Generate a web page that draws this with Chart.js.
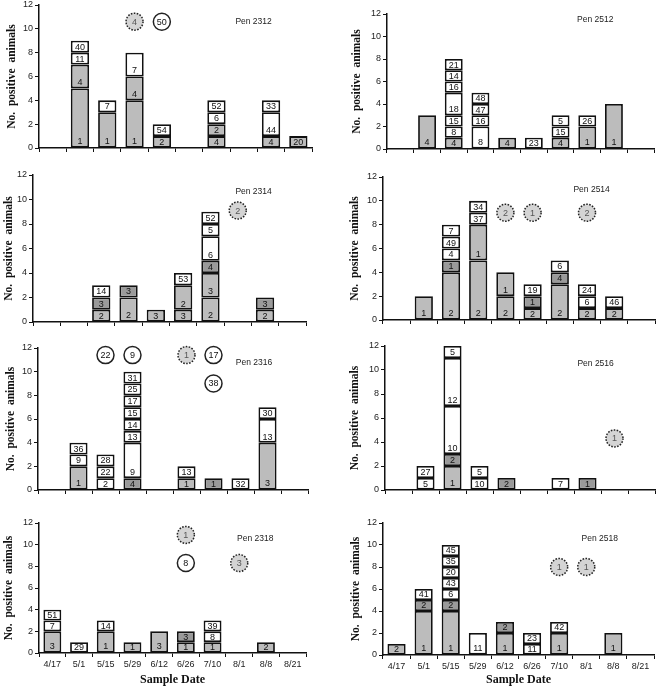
<!DOCTYPE html>
<html>
<head>
<meta charset="utf-8">
<title>Positive animals by pen and sample date</title>
<script src="https://cdn.jsdelivr.net/npm/chart.js@4.4.0/dist/chart.umd.min.js"></script>
<style>
  html, body { margin: 0; padding: 0; background: #fff; }
  #page { position: relative; width: 658px; height: 687px; overflow: hidden; }
  .panel { position: absolute; }
</style>
</head>
<body>
<div id="page"></div>
<script>
// Sample dates (x categories) and y ticks
const dates = ['4/17', '5/1', '5/15', '5/29', '6/12', '6/26', '7/10', '8/1', '8/8', '8/21'];
const yMax = 12;
const yStep = 2;

// Each bar = list of stacked segments: [animals, label, type]  (g / d = gray shades, w = white)
const pen2312 = [
    [],
    [[5, '1', 'g'], [2, '4', 'g'], [1, '11', 'w'], [1, '40', 'w']],
    [[3, '1', 'g'], [1, '7', 'w']],
    [[4, '1', 'g'], [2, '4', 'g'], [2, '7', 'w']],
    [[1, '2', 'g'], [1, '54', 'w']],
    [],
    [[1, '4', 'g'], [1, '2', 'g'], [1, '6', 'w'], [1, '52', 'w']],
    [],
    [[1, '4', 'g'], [2, '44', 'w'], [1, '33', 'w']],
    [[1, '20', 'g']]
];
const pen2512 = [
    [],
    [[3, '4', 'g']],
    [[1, '4', 'g'], [1, '8', 'w'], [1, '15', 'w'], [2, '18', 'w'], [1, '16', 'w'], [1, '14', 'w'], [1, '21', 'w']],
    [[2, '8', 'w'], [1, '16', 'w'], [1, '47', 'w'], [1, '48', 'w']],
    [[1, '4', 'g']],
    [[1, '23', 'w']],
    [[1, '4', 'g'], [1, '15', 'w'], [1, '5', 'w']],
    [[2, '1', 'g'], [1, '26', 'w']],
    [[4, '1', 'g']],
    []
];
const pen2314 = [
    [],
    [],
    [[1, '2', 'g'], [1, '3', 'd'], [1, '14', 'w']],
    [[2, '2', 'g'], [1, '3', 'd']],
    [[1, '3', 'g']],
    [[1, '3', 'g'], [2, '2', 'g'], [1, '53', 'w']],
    [[2, '2', 'g'], [2, '3', 'g'], [1, '4', 'd'], [2, '6', 'w'], [1, '5', 'w'], [1, '52', 'w']],
    [],
    [[1, '2', 'g'], [1, '3', 'd']],
    []
];
const pen2514 = [
    [],
    [[2, '1', 'g']],
    [[4, '2', 'g'], [1, '1', 'd'], [1, '4', 'w'], [1, '49', 'w'], [1, '7', 'w']],
    [[5, '2', 'g'], [3, '1', 'g'], [1, '37', 'w'], [1, '34', 'w']],
    [[2, '2', 'g'], [2, '1', 'g']],
    [[1, '2', 'g'], [1, '1', 'd'], [1, '19', 'w']],
    [[3, '2', 'g'], [1, '4', 'd'], [1, '6', 'w']],
    [[1, '2', 'g'], [1, '6', 'w'], [1, '24', 'w']],
    [[1, '2', 'g'], [1, '46', 'w']],
    []
];
const pen2316 = [
    [],
    [[2, '1', 'g'], [1, '9', 'w'], [1, '36', 'w']],
    [[1, '2', 'w'], [1, '22', 'w'], [1, '28', 'w']],
    [[1, '4', 'd'], [3, '9', 'w'], [1, '13', 'w'], [1, '14', 'w'], [1, '15', 'w'], [1, '17', 'w'], [1, '25', 'w'], [1, '31', 'w']],
    [],
    [[1, '1', 'g'], [1, '13', 'w']],
    [[1, '1', 'd']],
    [[1, '32', 'w']],
    [[4, '3', 'g'], [2, '13', 'w'], [1, '30', 'w']],
    []
];
const pen2516 = [
    [],
    [[1, '5', 'w'], [1, '27', 'w']],
    [[2, '1', 'g'], [1, '2', 'd'], [4, '10', 'w'], [4, '12', 'w'], [1, '5', 'w']],
    [[1, '10', 'w'], [1, '5', 'w']],
    [[1, '2', 'd']],
    [],
    [[1, '7', 'w']],
    [[1, '1', 'd']],
    [],
    []
];
const pen2318 = [
    [[2, '3', 'g'], [1, '7', 'w'], [1, '51', 'w']],
    [[1, '29', 'w']],
    [[2, '1', 'g'], [1, '14', 'w']],
    [[1, '1', 'g']],
    [[2, '3', 'g']],
    [[1, '1', 'g'], [1, '3', 'd']],
    [[1, '1', 'g'], [1, '8', 'w'], [1, '39', 'w']],
    [],
    [[1, '2', 'g']],
    []
];
const pen2518 = [
    [[1, '2', 'g']],
    [[4, '1', 'g'], [1, '2', 'd'], [1, '41', 'w']],
    [[4, '1', 'g'], [1, '2', 'd'], [1, '6', 'w'], [1, '43', 'w'], [1, '20', 'w'], [1, '35', 'w'], [1, '45', 'w']],
    [[2, '11', 'w']],
    [[2, '1', 'g'], [1, '2', 'd']],
    [[1, '11', 'w'], [1, '23', 'w']],
    [[2, '1', 'g'], [1, '42', 'w']],
    [],
    [[2, '1', 'g']],
    []
];

// Circled counts: [date, height, label, type]
const circles2312 = [['5/29', 10.6, '4', 'g'], ['6/12', 10.6, '50', 'w']];
const circles2512 = [];
const circles2314 = [['8/1', 9.1, '2', 'g']];
const circles2514 = [['6/12', 9, '2', 'g'], ['6/26', 9, '1', 'g'], ['8/1', 9, '2', 'g']];
const circles2316 = [['5/15', 11.4, '22', 'w'], ['5/29', 11.4, '9', 'w'], ['6/26', 11.4, '1', 'g'], ['7/10', 11.4, '17', 'w'], ['7/10', 9, '38', 'w']];
const circles2516 = [['8/8', 4.3, '1', 'g']];
const circles2318 = [['6/26', 10.9, '1', 'g'], ['6/26', 8.3, '8', 'w'], ['8/1', 8.3, '3', 'g']];
const circles2518 = [['7/10', 8, '1', 'g'], ['8/1', 8, '1', 'g']];

const FILL = { g: '#bcbcbc', d: '#9a9a9a', w: '#ffffff' };
const SANS = "'Liberation Sans', Arial, sans-serif";
const SERIF = "'Liberation Serif', 'Times New Roman', serif";

// Panel placement (plot area edges in page pixels)
const panels = [
    { pen: '2312', bars: pen2312, circles: circles2312, left: 0,   L: 39,  T: 5,   R: 312, B: 148, titleX: 12,  penAt: [7.36, 10.6] },
    { pen: '2512', bars: pen2512, circles: circles2512, left: 330, L: 387, T: 14,  R: 654, B: 149, titleX: 357, penAt: [7.3, 11.5] },
    { pen: '2314', bars: pen2314, circles: circles2314, left: 0,   L: 33,  T: 175, R: 306, B: 322, titleX: 9,   penAt: [7.58, 10.6] },
    { pen: '2514', bars: pen2514, circles: circles2514, left: 330, L: 383, T: 177, R: 655, B: 320, titleX: 355, penAt: [7.17, 10.9] },
    { pen: '2316', bars: pen2316, circles: circles2316, left: 0,   L: 38,  T: 348, R: 308, B: 490, titleX: 11,  penAt: [7.5, 10.75] },
    { pen: '2516', bars: pen2516, circles: circles2516, left: 330, L: 385, T: 346, R: 655, B: 490, titleX: 355, penAt: [7.3, 10.5] },
    { pen: '2318', bars: pen2318, circles: circles2318, left: 0,   L: 39,  T: 523, R: 306, B: 653, titleX: 9,   penAt: [7.6, 10.55], bottomRow: true },
    { pen: '2518', bars: pen2518, circles: circles2518, left: 330, L: 383, T: 523, R: 654, B: 655, titleX: 356, penAt: [7.5, 10.6], bottomRow: true }
];

function buildDatasets(bars) {
    const levels = Math.max(...bars.map(b => b.length));
    const sets = [];
    for (let k = 0; k < levels; k++) {
        sets.push({
            data: bars.map(b => b[k] ? b[k][0] : null),
            segLabels: bars.map(b => b[k] ? b[k][1] : ''),
            backgroundColor: bars.map(b => b[k] ? FILL[b[k][2]] : 'rgba(0,0,0,0)'),
            borderColor: '#111',
            borderWidth: 1.8,
            borderSkipped: false,
            barPercentage: 0.67,
            categoryPercentage: 1
        });
    }
    return sets;
}

// Segment labels, circled counts and pen name
function annotations(p) {
    return {
        id: 'annotations' + p.pen,
        afterDatasetsDraw(chart) {
            const { ctx, scales: { x, y } } = chart;
            ctx.save();
            ctx.textAlign = 'center';
            ctx.textBaseline = 'middle';
            ctx.fillStyle = '#111';
            ctx.font = '9px ' + SANS;
            chart.data.datasets.forEach((ds, i) => {
                chart.getDatasetMeta(i).data.forEach((bar, j) => {
                    const text = ds.segLabels[j];
                    if (!text) return;
                    const h = bar.base - bar.y;
                    ctx.fillText(text, bar.x, bar.base - Math.min(6, h / 2) + 0.5);
                });
            });

            p.circles.forEach(([d, v, text, type]) => {
                const cx = x.getPixelForValue(dates.indexOf(d));
                const cy = y.getPixelForValue(v);
                ctx.beginPath();
                ctx.arc(cx, cy, 8.5, 0, Math.PI * 2);
                ctx.fillStyle = type === 'w' ? '#fff' : '#d4d4d4';
                ctx.fill();
                ctx.lineWidth = 1.5;
                ctx.strokeStyle = '#222';
                ctx.setLineDash(type === 'w' ? [] : [1.6, 1.4]);
                ctx.stroke();
                ctx.setLineDash([]);
                ctx.fillStyle = type === 'w' ? '#111' : '#555';
                ctx.font = '9px ' + SANS;
                ctx.fillText(text, cx, cy + 0.5);
            });

            ctx.fillStyle = '#222';
            ctx.font = '8.5px ' + SANS;
            ctx.fillText('Pen ' + p.pen, x.getPixelForValue(p.penAt[0]), y.getPixelForValue(p.penAt[1]));
            ctx.restore();
        }
    };
}

const page = document.getElementById('page');

panels.forEach(p => {
    const top = p.T - 8;
    const hx = p.bottomRow ? 687 - p.B : 8;
    const div = document.createElement('div');
    div.className = 'panel';
    div.style.left = p.left + 'px';
    div.style.top = top + 'px';
    div.style.width = (p.R - p.left + 2) + 'px';
    div.style.height = (p.B - top + hx) + 'px';
    const canvas = document.createElement('canvas');
    div.appendChild(canvas);
    page.appendChild(div);

    const titleSize = 11.5;
    new Chart(canvas, {
        type: 'bar',
        data: { labels: dates, datasets: buildDatasets(p.bars) },
        options: {
            responsive: true,
            maintainAspectRatio: false,
            animation: false,
            events: [],
            layout: { padding: { top: 8, right: 2, left: 0, bottom: 0 } },
            plugins: { legend: { display: false }, tooltip: { enabled: false } },
            scales: {
                x: {
                    stacked: true,
                    offset: true,
                    afterFit: scale => { scale.height = hx; },
                    border: { color: '#111', width: 1.5 },
                    grid: { offset: true, drawOnChartArea: false, drawTicks: true, tickLength: 4, color: '#111', lineWidth: 1 },
                    ticks: { display: !!p.bottomRow, autoSkip: false, maxRotation: 0, padding: 2, color: '#222', font: { family: SANS, size: 9 } },
                    title: {
                        display: !!p.bottomRow,
                        text: 'Sample Date',
                        color: '#111',
                        padding: { top: 0, bottom: 0 },
                        font: { family: SERIF, size: 12, weight: 'bold', lineHeight: 1.2 }
                    }
                },
                y: {
                    stacked: true,
                    min: 0,
                    max: yMax,
                    afterFit: scale => { scale.width = p.L - p.left; },
                    border: { color: '#111', width: 1.5 },
                    grid: { drawOnChartArea: false, drawTicks: true, tickLength: 4, color: '#111', lineWidth: 1 },
                    ticks: { stepSize: yStep, padding: 2, color: '#222', font: { family: SANS, size: 9 } },
                    title: {
                        display: true,
                        text: 'No.  positive  animals',
                        color: '#111',
                        padding: { top: p.titleX - p.left - titleSize * 0.6, bottom: 0 },
                        font: { family: SERIF, size: titleSize, weight: 'bold', lineHeight: 1.2 }
                    }
                }
            }
        },
        plugins: [annotations(p)]
    });
});
</script>
</body>
</html>
